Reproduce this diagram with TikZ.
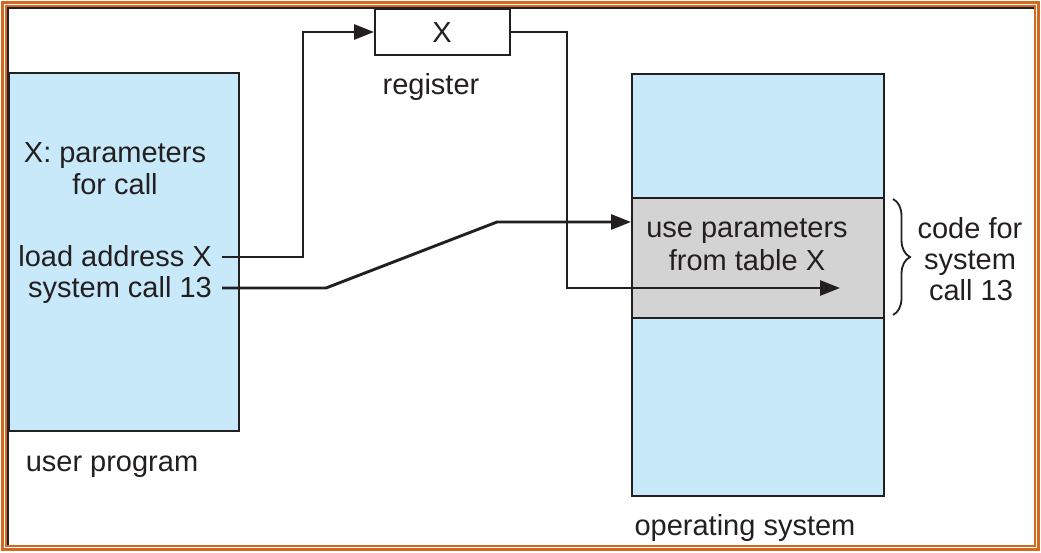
\documentclass[tikz,border=0pt]{standalone}
\usepackage{fontspec}
\setmainfont{Liberation Sans}
\usetikzlibrary{arrows.meta,decorations.pathreplacing}
\definecolor{ublue}{HTML}{C8E9F9}
\definecolor{ugrey}{HTML}{D3D3D3}
\definecolor{uorange}{HTML}{D2691E}
\definecolor{ink}{HTML}{231F20}
\begin{document}
\begin{tikzpicture}[x=1pt,y=-1pt,
  box/.style={draw=ink, line width=2pt, inner sep=0pt, anchor=north west},
  lbl/.style={font=\fontsize{29}{32}\selectfont, inner sep=0pt, anchor=base, text=ink},
  conn/.style={draw=ink, line width=2.9pt},
  tip/.style={-{Triangle[length=20pt,width=15pt]}}]
\useasboundingbox (0,0) rectangle (1041,552);
% frame
\draw[uorange, line width=3pt] (2.2,2.2) rectangle (1038.8,549.8);
\draw[uorange, line width=2pt] (5.5,5.5) rectangle (1035,545.5);
\draw[ink, line width=1.8pt] (7.6,545) -- (7.6,7.6) -- (1034,7.6);
% boxes
\node[box, fill=ublue, minimum width=230pt, minimum height=358pt] (user) at (8,72) {};
\node[box, fill=ublue, minimum width=252pt, minimum height=422pt] (os) at (631,73) {};
\node[box, fill=ugrey, minimum width=252pt, minimum height=120pt] (code) at (631,197) {};
\node[box, fill=white, minimum width=135pt, minimum height=46pt] (reg) at (374,8) {};
% texts
\node[lbl] (regx) at (442,42) {X};
\node[lbl] (regl) at (431,94) {register};
\node[lbl] (xp1) at (115,162) {X: parameters};
\node[lbl] (xp2) at (115,194) {for call};
\node[lbl, anchor=base east] (load) at (212,266) {load address X};
\node[lbl, anchor=base east] (sys) at (212,297) {system call 13};
\node[lbl] (up) at (112,471) {user program};
\node[lbl] (use1) at (747,237) {use parameters};
\node[lbl] (use2) at (747,270) {from table X};
\node[lbl] (cf1) at (970,238) {code for};
\node[lbl] (cf2) at (970,269) {system};
\node[lbl] (cf3) at (971,300) {call 13};
\node[lbl] (osl) at (745,535) {operating system};
% brace
\coordinate (bt) at (893,199);
\coordinate (bb) at (893,315);
\draw[ink, line width=1.8pt, decorate, decoration={brace, amplitude=17pt, aspect=0.5}] (bt) -- (bb);
% connectors
\coordinate (s1) at (222,257);
\coordinate (s2) at (222,288);
\coordinate (t2) at (840,288);
\coordinate (t3) at (631,222);
\draw[conn, tip] (s1) -- (303,257) |- (reg.west);
\draw[conn, tip] (reg.east) -| (567,288) -- (t2);
\draw[conn, tip] (s2) -- (326,288) -- (497,222) -- (t3);
\end{tikzpicture}
\end{document}
